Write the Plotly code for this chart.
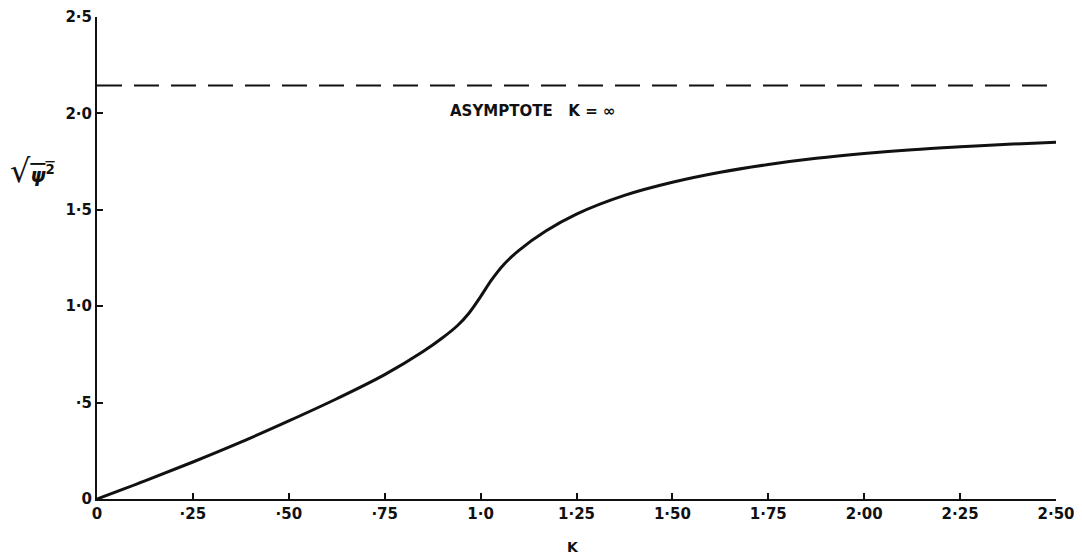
import plotly.graph_objects as go

# Data
k_values = [0, 0.125, 0.25, 0.375, 0.5, 0.625, 0.75, 0.85, 0.9, 0.94, 0.97, 1.0, 1.03,
            1.06, 1.1, 1.17, 1.25, 1.375, 1.5, 1.625, 1.75, 1.875, 2.0, 2.125, 2.25, 2.375, 2.5]
psi_rms = [0, 0.094, 0.192, 0.295, 0.405, 0.52, 0.645, 0.765, 0.835, 0.90, 0.965, 1.05, 1.14,
           1.215, 1.29, 1.39, 1.478, 1.575, 1.643, 1.695, 1.735, 1.767, 1.792, 1.812, 1.827, 1.84, 1.851]
asymptote = 2.145

x_tickvals = [0, 0.25, 0.5, 0.75, 1.0, 1.25, 1.5, 1.75, 2.0, 2.25, 2.5]
x_ticktext = ["0", "·25", "·50", "·75", "1·0", "1·25", "1·50", "1·75", "2·00", "2·25", "2·50"]
y_tickvals = [0, 0.5, 1.0, 1.5, 2.0, 2.5]
y_ticktext = ["0", "·5", "1·0", "1·5", "2·0", "2·5"]

FONT = "DejaVu Sans"
INK = "#111111"

fig = go.Figure()
fig.add_trace(go.Scatter(
    x=[0, 2.52], y=[asymptote, asymptote], mode="lines",
    line=dict(color=INK, width=2, dash="25px,12px"),
    hoverinfo="skip", showlegend=False, cliponaxis=False))
fig.add_trace(go.Scatter(
    x=k_values, y=psi_rms, mode="lines",
    line=dict(color=INK, width=3, shape="spline", smoothing=1.0),
    showlegend=False))

fig.add_annotation(x=1.134, y=2.015, xref="x", yref="y", showarrow=False,
                   text="<b>ASYMPTOTE   K = ∞</b>",
                   font=dict(family=FONT, size=15, color=INK))
fig.add_annotation(x=1.24, y=-0.1, xref="x", yref="paper", showarrow=False,
                   xanchor="center", yanchor="middle",
                   text="<b>K</b>", font=dict(family=FONT, size=14, color=INK))
fig.add_annotation(x=-0.067, y=1.70, xref="paper", yref="y", showarrow=False,
                   xanchor="center", yanchor="middle",
                   text="<span style='font-size:32px'>√</span><span style='text-decoration:overline'><b><i>ψ</i><sup>2</sup></b></span>",
                   font=dict(family=FONT, size=19, color=INK))

axis_common = dict(showgrid=False, zeroline=False, showline=True, linecolor=INK,
                   linewidth=2, ticks="inside", ticklen=6, tickwidth=2, tickcolor=INK,
                   automargin=False,
                   tickfont=dict(family=FONT, size=15, color=INK, weight="bold"))

fig.update_xaxes(range=[0, 2.5], tickmode="array", tickvals=x_tickvals, ticktext=x_ticktext,
                 **axis_common)
fig.update_yaxes(range=[0, 2.5], tickmode="array", tickvals=y_tickvals, ticktext=y_ticktext,
                 **axis_common)

# the page body adds an 8px offset; size the figure to fit the window
fig.update_layout(
    width=1074, height=550,
    margin=dict(l=89, r=26, t=9, b=59),
    plot_bgcolor="white", paper_bgcolor="white",
    font=dict(family=FONT, color=INK),
)

fig.write_html("out.html")
